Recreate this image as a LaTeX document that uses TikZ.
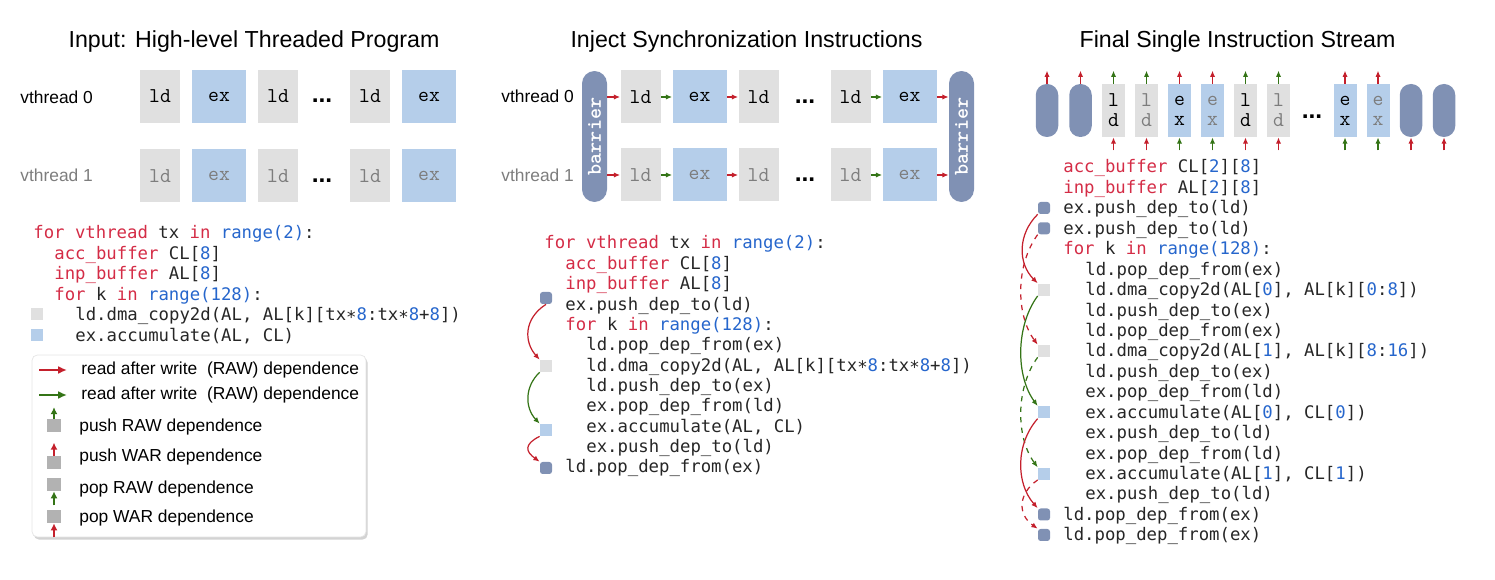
\documentclass[tikz,border=0pt]{standalone}
\usepackage{fontspec}
\setmainfont{Liberation Sans}
\newfontfamily\codefont{DejaVu Sans Mono}
\usetikzlibrary{arrows.meta,positioning,shadows}
\definecolor{depred}{RGB}{196,32,44}
\definecolor{depgreen}{RGB}{52,116,22}
\definecolor{boxgray}{RGB}{224,224,224}
\definecolor{boxblue}{RGB}{181,206,234}
\definecolor{barnavy}{RGB}{128,145,180}
\definecolor{kwred}{RGB}{212,44,70}
\definecolor{numblue}{RGB}{38,102,204}
\definecolor{codetxt}{RGB}{38,38,38}
\definecolor{dimtxt}{RGB}{125,125,125}
\definecolor{legsq}{RGB}{178,178,178}
\newcommand{\kw}[1]{\textcolor{kwred}{#1}}
\newcommand{\nm}[1]{\textcolor{numblue}{#1}}
\newcommand{\lowast}{\raisebox{-0.28ex}{*}}
\tikzset{font=\fontsize{9.9}{11.6}\selectfont}
\tikzstyle{title}=[font=\fontsize{13.2}{15}\selectfont]
\tikzstyle{thr}=[anchor=west,inner sep=0pt]
\tikzstyle{ldbox}=[fill=boxgray,minimum width=0.8cm,minimum height=1.06cm,inner sep=0pt,font=\fontsize{12}{13}\ttfamily]
\tikzstyle{exbox}=[ldbox,fill=boxblue,minimum width=1.08cm]
\tikzstyle{barrier}=[fill=barnavy,rounded corners=0.25cm,minimum width=2.62cm,minimum height=0.5cm,inner sep=0pt,rotate=90,text=white,font=\fontsize{12}{13}\ttfamily\bfseries]
\tikzstyle{pill}=[fill=barnavy,rounded corners=0.22cm,minimum width=0.45cm,minimum height=1.06cm]
\tikzstyle{slim}=[ldbox,minimum width=0.46cm,align=center,font=\fontsize{12}{11.4}\ttfamily]
\tikzstyle{ellip}=[inner sep=0pt,font=\fontsize{14}{16}\selectfont\bfseries]
\tikzstyle{code}=[anchor=base west,inner sep=0pt,text=codetxt,font=\codefont\fontsize{9.85}{11.6}\selectfont]
\tikzstyle{codemark}=[minimum size=0.24cm,inner sep=0pt]
\tikzstyle{navymark}=[codemark,fill=barnavy,rounded corners=1.5pt]
\tikzstyle{dep}=[-{Latex[length=3.6pt,width=3pt]},line width=0.7pt]
\tikzstyle{legarrow}=[-{Latex[length=5pt,width=4.5pt]},line width=1.7pt]
\tikzstyle{legstub}=[-{Latex[length=4pt,width=4pt]},line width=1.2pt]
\tikzstyle{legbox}=[fill=white,draw=gray!20,rounded corners=3pt,minimum width=6.68cm,minimum height=3.64cm,drop shadow={opacity=0.35,shadow xshift=1pt,shadow yshift=-1.5pt}]
\tikzstyle{legsqs}=[fill=legsq,minimum width=0.27cm,minimum height=0.26cm,inner sep=0pt]

\begin{document}
\begin{tikzpicture}[x=0.02cm,y=-0.02cm]
\useasboundingbox (0,0) rectangle (1495,580);

\node[title] (tl) at (254,42) {Input: High-level Threaded Program};
\node[thr] (tl0) at (20,97) {vthread 0};
\node[thr,text=dimtxt] (tl1) at (20,175) {vthread 1};
\foreach \r/\y/\c in {0/96.5/black,1/176/dimtxt}{
  \node[ldbox,text=\c] (a\r1) at (160,\y) {ld};
  \node[exbox,text=\c] (a\r2) at (219,\y) {ex};
  \node[ldbox,text=\c] (a\r3) at (278,\y) {ld};
  \node[ellip] (a\r d) at (322,\y+4.5) {...};
  \node[ldbox,text=\c] (a\r4) at (370,\y) {ld};
  \node[exbox,text=\c] (a\r5) at (429,\y) {ex};
}

\node[code] (cl0) at (33,239) {\kw{for vthread} tx \kw{in} \nm{range(2)}:};
\node[code] (cl1) at (54,259.5) {\kw{acc\_buffer} CL[\nm{8}]};
\node[code] (cl2) at (54,280) {\kw{inp\_buffer} AL[\nm{8}]};
\node[code] (cl3) at (54,300.5) {\kw{for} k \kw{in} \nm{range(128)}:};
\node[code] (cl4) at (75,321) {ld.dma\_copy2d(AL, AL[k][tx\lowast\nm{8}:tx\lowast\nm{8}+\nm{8}])};
\node[code] (cl5) at (75,341.5) {ex.accumulate(AL, CL)};
\node[codemark,fill=boxgray] (lA) at (37,314) {};
\node[codemark,fill=boxblue] (lB) at (37,335.5) {};

\node[legbox] (leg) at (199,446) {};
\coordinate (lr0) at (39,370); \coordinate (lr1) at (67,370);
\coordinate (lg0) at (39,395); \coordinate (lg1) at (67,395);
\draw[legarrow,depred] (lr0) -- (lr1);
\draw[legarrow,depgreen] (lg0) -- (lg1);
\node[thr] (lt0) at (81,370) {read after write\ \ (RAW) dependence};
\node[thr] (lt1) at (81,395) {read after write\ \ (RAW) dependence};
\node[legsqs] (q1) at (54,426) {};
\node[legsqs] (q2) at (54,462.5) {};
\node[legsqs] (q3) at (54,484.5) {};
\node[legsqs] (q4) at (54,516.5) {};
\draw[legstub,depgreen] (q1.north) -- ++(0,-12);
\draw[legstub,depred] (q2.north) -- ++(0,-13);
\draw[legstub,depgreen] (q3.south) ++(0,14) -- (q3.south);
\draw[legstub,depred] (q4.south) ++(0,14) -- (q4.south);
\node[thr] (lt2) at (79,427) {push RAW dependence};
\node[thr] (lt3) at (79,457) {push WAR dependence};
\node[thr] (lt4) at (79,489) {pop RAW dependence};
\node[thr] (lt5) at (79,518) {pop WAR dependence};

\node[title] (tm) at (746.5,42) {Inject Synchronization Instructions};
\node[thr] (tm0) at (501,96) {vthread 0};
\node[thr,text=dimtxt] (tm1) at (501,175) {vthread 1};
\node[barrier] (bl) at (594.5,136.5) {barrier};
\node[barrier] (br) at (961.5,136.5) {barrier};
\foreach \r/\y/\c in {0/97/black,1/175/dimtxt}{
  \node[ldbox,text=\c] (b\r1) at (640.5,\y) {ld};
  \node[exbox,text=\c] (b\r2) at (699.5,\y) {ex};
  \node[ldbox,text=\c] (b\r3) at (758.5,\y) {ld};
  \node[ellip] (b\r d) at (805,\y+4.5) {...};
  \node[ldbox,text=\c] (b\r4) at (850.5,\y) {ld};
  \node[exbox,text=\c] (b\r5) at (909.5,\y) {ex};
  \draw[dep,depred] (bl.south |- b\r1) -- (b\r1);
  \draw[dep,depgreen] (b\r1) -- (b\r2);
  \draw[dep,depred] (b\r2) -- (b\r3);
  \draw[dep,depgreen] (b\r4) -- (b\r5);
  \draw[dep,depred] (b\r5) -- (br.north |- b\r5);
}

\node[code] (cm0) at (544,249) {\kw{for vthread} tx \kw{in} \nm{range(2)}:};
\node[code] (cm1) at (565,269.4) {\kw{acc\_buffer} CL[\nm{8}]};
\node[code] (cm2) at (565,289.7) {\kw{inp\_buffer} AL[\nm{8}]};
\node[code] (cm3) at (565,310.1) {ex.push\_dep\_to(ld)};
\node[code] (cm4) at (565,330.4) {\kw{for} k \kw{in} \nm{range(128)}:};
\node[code] (cm5) at (586,350.8) {ld.pop\_dep\_from(ex)};
\node[code] (cm6) at (586,371.2) {ld.dma\_copy2d(AL, AL[k][tx\lowast\nm{8}:tx\lowast\nm{8}+\nm{8}])};
\node[code] (cm7) at (586,391.5) {ld.push\_dep\_to(ex)};
\node[code] (cm8) at (586,411.9) {ex.pop\_dep\_from(ld)};
\node[code] (cm9) at (586,432.2) {ex.accumulate(AL, CL)};
\node[code] (cm10) at (586,452.6) {ex.push\_dep\_to(ld)};
\node[code] (cm11) at (565,473) {ld.pop\_dep\_from(ex)};
\node[navymark] (mA) at (546,298) {};
\node[codemark,fill=boxgray] (mB) at (546,366) {};
\node[codemark,fill=boxblue] (mC) at (546,430) {};
\node[navymark] (mD) at (546,468) {};
\draw[dep,depred] (mA.south) .. controls +(-22,14) and +(-16,-18) .. (mB.north west);
\draw[dep,depgreen] (mB.south west) .. controls +(-15,14) and +(-15,-16) .. (mC.north west);
\draw[dep,depred] (mC.south west) .. controls +(-16,8) and +(-14,-10) .. (mD.north west);

\node[title] (tr) at (1237.5,42) {Final Single Instruction Stream};
\node[pill] (p1) at (1047,110.5) {};
\node[pill] (p2) at (1080.5,110.5) {};
\node[slim] (s1) at (1113.5,110.5) {l\\d};
\node[slim,text=dimtxt] (s2) at (1146.5,110.5) {l\\d};
\node[slim,fill=boxblue] (s3) at (1179.5,110.5) {e\\x};
\node[slim,fill=boxblue,text=dimtxt] (s4) at (1212.5,110.5) {e\\x};
\node[slim] (s5) at (1245.5,110.5) {l\\d};
\node[slim,text=dimtxt] (s6) at (1278.5,110.5) {l\\d};
\node[ellip] (sd) at (1312,117) {...};
\node[slim,fill=boxblue] (s7) at (1345,110.5) {e\\x};
\node[slim,fill=boxblue,text=dimtxt] (s8) at (1378,110.5) {e\\x};
\node[pill] (p3) at (1411,110.5) {};
\node[pill] (p4) at (1444,110.5) {};
\foreach \n/\c in {p1/depred,p2/depred,s1/depgreen,s2/depgreen,s3/depred,s4/depred,s5/depgreen,s6/depgreen,s7/depred,s8/depred}
  \draw[dep,\c] (\n.north) -- ++(0,-13);
\foreach \n/\c in {s1/depred,s2/depred,s3/depgreen,s4/depgreen,s5/depred,s6/depred,s7/depgreen,s8/depgreen,p3/depred,p4/depred}
  \draw[dep,\c] (\n.south) ++(0,13) -- (\n.south);

\node[code] (cr0) at (1063,173) {\kw{acc\_buffer} CL[\nm{2}][\nm{8}]};
\node[code] (cr1) at (1063,193.4) {\kw{inp\_buffer} AL[\nm{2}][\nm{8}]};
\node[code] (cr2) at (1063,213.9) {ex.push\_dep\_to(ld)};
\node[code] (cr3) at (1063,234.3) {ex.push\_dep\_to(ld)};
\node[code] (cr4) at (1063,254.8) {\kw{for} k \kw{in} \nm{range(128)}:};
\node[code] (cr5) at (1085,275.2) {ld.pop\_dep\_from(ex)};
\node[code] (cr6) at (1085,295.6) {ld.dma\_copy2d(AL[\nm{0}], AL[k][\nm{0}:\nm{8}])};
\node[code] (cr7) at (1085,316.1) {ld.push\_dep\_to(ex)};
\node[code] (cr8) at (1085,336.5) {ld.pop\_dep\_from(ex)};
\node[code] (cr9) at (1085,357) {ld.dma\_copy2d(AL[\nm{1}], AL[k][\nm{8}:\nm{16}])};
\node[code] (cr10) at (1085,377.4) {ld.push\_dep\_to(ex)};
\node[code] (cr11) at (1085,397.8) {ex.pop\_dep\_from(ld)};
\node[code] (cr12) at (1085,418.3) {ex.accumulate(AL[\nm{0}], CL[\nm{0}])};
\node[code] (cr13) at (1085,438.7) {ex.push\_dep\_to(ld)};
\node[code] (cr14) at (1085,459.2) {ex.pop\_dep\_from(ld)};
\node[code] (cr15) at (1085,479.6) {ex.accumulate(AL[\nm{1}], CL[\nm{1}])};
\node[code] (cr16) at (1085,500) {ex.push\_dep\_to(ld)};
\node[code] (cr17) at (1063,520.5) {ld.pop\_dep\_from(ex)};
\node[code] (cr18) at (1063,541) {ld.pop\_dep\_from(ex)};
\node[navymark] (rA) at (1044,208) {};
\node[navymark] (rB) at (1044,228.3) {};
\node[codemark,fill=boxgray] (rC) at (1044,289.6) {};
\node[codemark,fill=boxgray] (rD) at (1044,351) {};
\node[codemark,fill=boxblue] (rE) at (1044,412.3) {};
\node[codemark,fill=boxblue] (rF) at (1044,473.6) {};
\node[navymark] (rG) at (1044,514.5) {};
\node[navymark] (rH) at (1044,535) {};
\draw[dep,depred] (rA.south west) .. controls +(-20,20) and +(-20,-20) .. (rC.north west);
\draw[dep,depred,dashed] (rB.south west) .. controls +(-22,30) and +(-22,-30) .. (rD.north west);
\draw[dep,depgreen] (rC.south west) .. controls +(-22,30) and +(-22,-30) .. (rE.north west);
\draw[dep,depgreen,dashed] (rD.south west) .. controls +(-22,30) and +(-22,-30) .. (rF.north west);
\draw[dep,depred] (rE.south west) .. controls +(-22,25) and +(-22,-25) .. (rG.north west);
\draw[dep,depred,dashed] (rF.south west) .. controls +(-20,14) and +(-20,-14) .. (rH.north west);
\end{tikzpicture}
\end{document}
